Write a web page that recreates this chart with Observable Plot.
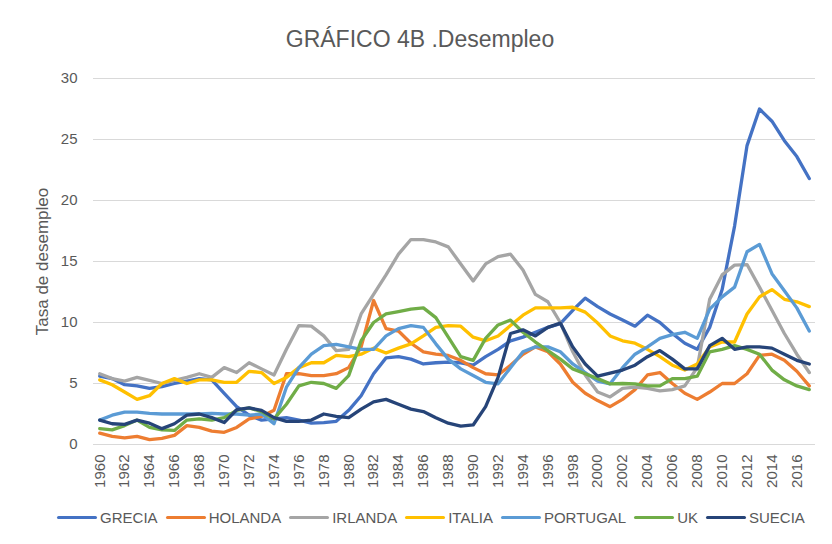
<!DOCTYPE html>
<html>
<head>
<meta charset="utf-8">
<script src="https://cdn.jsdelivr.net/npm/d3@7"></script>
<script src="https://cdn.jsdelivr.net/npm/@observablehq/plot@0.6"></script>
<style>
  html, body { margin: 0; padding: 0; background: #fff; }
  body { width: 832px; height: 544px; position: relative; overflow: hidden; font-family: "Liberation Sans", Arial, sans-serif; color: #595959; }
  #title { position: absolute; top: 25px; left: 0; width: 840px; text-align: center; font-size: 23px; line-height: 28px; color: #595959; }
  #chart { position: absolute; top: 60px; left: 0; }
  #legend { position: absolute; top: 509px; left: 0; width: 862px; display: flex; justify-content: center; align-items: center; gap: 8px; font-size: 15px; color: #595959; }
  .item { display: flex; align-items: center; gap: 3px; }
  .sw { width: 40px; height: 3px; border-radius: 2px; }
  g[aria-label="y-axis label"] text { font-size: 17px; }
</style>
</head>
<body>
<div id="title">GRÁFICO 4B .Desempleo</div>
<div id="chart"></div>
<div id="legend"></div>
<script>
// Years 1960–2017
const years = d3.range(1960, 2018);
const series = ["GRECIA", "HOLANDA", "IRLANDA", "ITALIA", "PORTUGAL", "UK", "SUECIA"];
const colors = ["#4472C4", "#ED7D31", "#A5A5A5", "#FFC000", "#5B9BD5", "#70AD47", "#264478"];
const yTicks = [0, 5, 10, 15, 20, 25, 30];
const xTicks = d3.range(1960, 2017, 2);

const grecia = [5.6, 5.4, 4.9, 4.8, 4.6, 4.75, 5.0, 5.2, 5.4, 5.3,
  4.2, 3.1, 2.4, 2.0, 2.1, 2.2, 2.0, 1.75, 1.8, 1.9,
  2.8, 4.0, 5.8, 7.1, 7.2, 7.0, 6.6, 6.7, 6.75, 6.7,
  6.5, 7.2, 7.8, 8.5, 8.8, 9.2, 9.6, 9.9, 11.0, 12.0,
  11.3, 10.7, 10.2, 9.7, 10.6, 10.0, 9.1, 8.3, 7.8, 9.6,
  12.7, 17.9, 24.5, 27.5, 26.5, 24.9, 23.6, 21.8];
const holanda = [0.93, 0.66, 0.55, 0.66, 0.4, 0.5, 0.75, 1.55, 1.4, 1.1,
  1.0, 1.4, 2.1, 2.3, 2.8, 5.8, 5.8, 5.65, 5.65, 5.8,
  6.3, 8.0, 11.8, 9.5, 9.3, 8.3, 7.6, 7.4, 7.3, 6.9,
  6.3, 5.8, 5.7, 6.5, 7.4, 8.0, 7.6, 6.6, 5.1, 4.2,
  3.6, 3.1, 3.7, 4.5, 5.7, 5.9, 5.0, 4.2, 3.7, 4.3,
  5.0, 5.0, 5.8, 7.3, 7.4, 6.9, 6.0, 4.8];
const irlanda = [5.8, 5.4, 5.2, 5.5, 5.25, 5.0, 5.25, 5.5, 5.8, 5.5,
  6.3, 5.9, 6.7, 6.2, 5.7, 7.8, 9.75, 9.7, 8.9, 7.7,
  7.8, 10.7, 12.3, 13.9, 15.6, 16.8, 16.8, 16.6, 16.2, 14.8,
  13.4, 14.8, 15.4, 15.6, 14.3, 12.3, 11.7, 10.0, 7.6, 5.7,
  4.3, 3.9, 4.6, 4.7, 4.6, 4.4, 4.5, 4.8, 6.3, 11.9,
  13.9, 14.7, 14.75, 12.9, 11.0, 9.1, 7.4, 5.9];
const italia = [5.3, 4.9, 4.3, 3.7, 4.0, 5.0, 5.4, 5.0, 5.3, 5.3,
  5.1, 5.1, 6.0, 5.9, 5.0, 5.5, 6.3, 6.7, 6.7, 7.3,
  7.2, 7.4, 7.9, 7.5, 7.9, 8.25, 8.9, 9.6, 9.75, 9.7,
  8.8, 8.5, 8.9, 9.75, 10.6, 11.2, 11.2, 11.2, 11.25, 10.85,
  9.95, 8.9, 8.5, 8.3, 7.8, 7.2, 6.5, 6.1, 6.6, 8.0,
  8.4, 8.4, 10.7, 12.1, 12.7, 11.9, 11.7, 11.3];
const portugal = [2.0, 2.4, 2.65, 2.65, 2.55, 2.5, 2.5, 2.5, 2.5, 2.55,
  2.5, 2.5, 2.4, 2.5, 1.7, 4.7, 6.3, 7.4, 8.1, 8.2,
  8.0, 7.8, 7.8, 8.9, 9.5, 9.75, 9.6, 8.25, 7.0, 6.2,
  5.65, 5.1, 4.97, 6.3, 7.6, 8.0, 8.0, 7.6, 6.6, 5.9,
  5.2, 4.97, 6.3, 7.4, 8.0, 8.7, 9.0, 9.2, 8.7, 11.1,
  12.1, 12.9, 15.8, 16.4, 14.0, 12.6, 11.2, 9.3];
const uk = [1.3, 1.2, 1.55, 2.0, 1.4, 1.2, 1.15, 2.0, 2.1, 2.0,
  2.2, 2.8, 3.0, 2.7, 2.1, 3.3, 4.8, 5.1, 5.0, 4.6,
  5.65, 8.5, 10.0, 10.7, 10.9, 11.1, 11.2, 10.4, 8.8, 7.2,
  6.9, 8.7, 9.8, 10.2, 9.2, 8.4, 7.7, 7.0, 6.2, 5.8,
  5.4, 4.97, 5.0, 4.97, 4.8, 4.8, 5.4, 5.4, 5.6, 7.6,
  7.8, 8.1, 7.8, 7.4, 6.1, 5.3, 4.8, 4.5];
const suecia = [2.0, 1.7, 1.65, 2.0, 1.75, 1.3, 1.7, 2.4, 2.5, 2.2,
  1.8, 2.85, 3.0, 2.8, 2.2, 1.9, 1.9, 2.0, 2.5, 2.3,
  2.2, 2.9, 3.5, 3.7, 3.3, 2.9, 2.7, 2.2, 1.75, 1.5,
  1.6, 3.1, 5.5, 9.1, 9.4, 8.9, 9.6, 9.95, 8.0, 6.6,
  5.6, 5.85, 6.1, 6.5, 7.2, 7.7, 7.0, 6.2, 6.2, 8.1,
  8.7, 7.8, 8.0, 8.0, 7.9, 7.4, 6.9, 6.6];

const values = [grecia, holanda, irlanda, italia, portugal, uk, suecia];
const data = series.flatMap((s, i) => years.map((yr, j) => ({serie: s, year: yr, value: values[i][j]})));

const plot = Plot.plot({
  width: 832,
  height: 440,
  marginLeft: 93,
  marginRight: 17,
  marginTop: 18,
  marginBottom: 56,
  style: {fontFamily: '"Liberation Sans", Arial, sans-serif', fontSize: "15px", color: "#595959", background: "#fff"},
  x: {type: "linear", domain: [1959.5, 2017.5]},
  y: {domain: [0, 30]},
  color: {domain: series, range: colors},
  marks: [
    Plot.gridY(yTicks, {stroke: "#d9d9d9", strokeOpacity: 1, strokeWidth: 1}),
    Plot.axisY(yTicks, {tickSize: 0, tickPadding: 16, fontSize: 15, label: "Tasa de desempleo", labelAnchor: "center", labelArrow: "none", labelOffset: 58}),
    Plot.axisX(xTicks, {tickSize: 0, tickPadding: 10, tickRotate: -90, fontSize: 15, tickFormat: d => String(d), label: null}),
    Plot.line(data, {x: "year", y: "value", z: "serie", stroke: "serie", strokeWidth: 3.3, strokeLinejoin: "round", strokeLinecap: "round"})
  ]
});
document.getElementById("chart").appendChild(plot);

const legend = document.getElementById("legend");
series.forEach((s, i) => {
  const it = document.createElement("div");
  it.className = "item";
  const sw = document.createElement("div");
  sw.className = "sw";
  sw.style.background = colors[i];
  const t = document.createElement("span");
  t.textContent = s;
  it.appendChild(sw);
  it.appendChild(t);
  legend.appendChild(it);
});
</script>
</body>
</html>
